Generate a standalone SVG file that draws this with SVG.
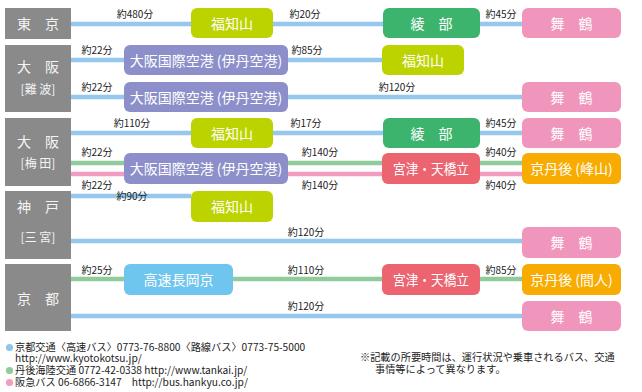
<svg xmlns="http://www.w3.org/2000/svg" width="642" height="392" viewBox="0 0 642 392">
<style>
text{font-family:"Noto Sans CJK JP","Noto Sans",sans-serif}
.org rect{fill:#8a8a8a}
.org text{fill:#f4f4f4;text-anchor:middle}
.big{font-size:14px}
.sub{font-size:12px}
.n text{fill:#fff;font-size:14px;text-anchor:middle}
.lime{fill:#bdd300}.grn{fill:#3db46d}.pnk{fill:#f096bd}.pur{fill:#8c8fc9}.red{fill:#ec6470}.org2{fill:#f8ab00}.lb{fill:#6ec5ee}
.c line{stroke-width:4.5}
.b{stroke:#95c8ec}.g{stroke:#8fcb9b}.p{stroke:#f39cc1}
.lbl text{font-size:10px;fill:#222;text-anchor:middle}
.ft{font-size:10.2px;fill:#222}
</style>
<g id="connectors" class="c">
<line class="b" x1="71" y1="24" x2="191" y2="24"/>
<line class="b" x1="273" y1="24" x2="383" y2="24"/>
<line class="b" x1="480" y1="24" x2="522" y2="24"/>
<line class="b" x1="71" y1="60" x2="124" y2="60"/>
<line class="b" x1="288" y1="60" x2="382" y2="60"/>
<line class="b" x1="71" y1="97" x2="124" y2="97"/>
<line class="b" x1="288" y1="97" x2="522" y2="97"/>
<line class="b" x1="71" y1="133" x2="191" y2="133"/>
<line class="b" x1="273" y1="133" x2="383" y2="133"/>
<line class="b" x1="480" y1="133" x2="522" y2="133"/>
<line class="g" x1="71" y1="163" x2="124" y2="163"/>
<line class="g" x1="288" y1="163" x2="382" y2="163"/>
<line class="g" x1="480" y1="163" x2="522" y2="163"/>
<line class="p" x1="71" y1="174" x2="124" y2="174"/>
<line class="p" x1="288" y1="174" x2="382" y2="174"/>
<line class="p" x1="480" y1="174" x2="522" y2="174"/>
<line class="b" x1="71" y1="196" x2="191" y2="196"/>
<line class="b" x1="71" y1="241" x2="522" y2="241"/>
<line class="g" x1="71" y1="279" x2="124" y2="279"/>
<line class="g" x1="233" y1="279" x2="382" y2="279"/>
<line class="g" x1="480" y1="279" x2="522" y2="279"/>
<line class="b" x1="71" y1="316" x2="522" y2="316"/>
</g>
<g id="labels" class="lbl">
<text x="135" y="18">約480分</text>
<text x="305" y="18">約20分</text>
<text x="501" y="18">約45分</text>
<text x="97" y="54">約22分</text>
<text x="307" y="54">約85分</text>
<text x="97" y="91">約22分</text>
<text x="397" y="91">約120分</text>
<text x="132" y="127">約110分</text>
<text x="306" y="127">約17分</text>
<text x="501" y="127">約45分</text>
<text x="97" y="156">約22分</text>
<text x="320" y="156">約140分</text>
<text x="501" y="156">約40分</text>
<text x="97" y="189">約22分</text>
<text x="320" y="189">約140分</text>
<text x="501" y="189">約40分</text>
<text x="132" y="200">約90分</text>
<text x="306" y="236">約120分</text>
<text x="97" y="274">約25分</text>
<text x="306" y="274">約110分</text>
<text x="501" y="274">約85分</text>
<text x="306" y="310">約120分</text>
</g>
<g id="tokyo" class="org"><rect x="5" y="8" width="66" height="31"/><text class="big" x="38" y="29">東　京</text></g>
<g id="osaka-namba" class="org"><rect x="5" y="45" width="66" height="67"/><text class="big" x="38" y="72">大　阪</text><text class="sub" x="38" y="94">[難 波]</text></g>
<g id="osaka-umeda" class="org"><rect x="5" y="118" width="66" height="68"/><text class="big" x="38" y="147">大　阪</text><text class="sub" x="38" y="168">[梅 田]</text></g>
<g id="kobe" class="org"><rect x="5" y="191" width="66" height="68"/><text class="big" x="38" y="212">神　戸</text><text class="sub" x="38" y="242">[三 宮]</text></g>
<g id="kyoto" class="org"><rect x="5" y="264" width="66" height="67"/><text class="big" x="38" y="304">京　都</text></g>

<g id="r1-fukuchiyama" class="n"><rect class="lime" x="191" y="8" width="82" height="30" rx="6"/><text x="232" y="28.5">福知山</text></g>
<g id="r1-ayabe" class="n"><rect class="grn" x="383" y="8" width="97" height="30" rx="6"/><text x="431.5" y="28.5">綾　部</text></g>
<g id="r1-maizuru" class="n"><rect class="pnk" x="522" y="8" width="99" height="30" rx="6"/><text x="571.5" y="28.5">舞　鶴</text></g>

<g id="r2-itami" class="n"><rect class="pur" x="124" y="45" width="164" height="30" rx="6"/><text x="206" y="65.5">大阪国際空港 (伊丹空港)</text></g>
<g id="r2-fukuchiyama" class="n"><rect class="lime" x="382" y="45" width="82" height="30" rx="6"/><text x="423" y="65.5">福知山</text></g>

<g id="r3-itami" class="n"><rect class="pur" x="124" y="82" width="164" height="30" rx="6"/><text x="206" y="102.5">大阪国際空港 (伊丹空港)</text></g>
<g id="r3-maizuru" class="n"><rect class="pnk" x="522" y="82" width="99" height="30" rx="6"/><text x="571.5" y="102.5">舞　鶴</text></g>

<g id="r4-fukuchiyama" class="n"><rect class="lime" x="191" y="118" width="82" height="30" rx="6"/><text x="232" y="138.5">福知山</text></g>
<g id="r4-ayabe" class="n"><rect class="grn" x="383" y="118" width="97" height="30" rx="6"/><text x="431.5" y="138.5">綾　部</text></g>
<g id="r4-maizuru" class="n"><rect class="pnk" x="522" y="118" width="99" height="30" rx="6"/><text x="571.5" y="138.5">舞　鶴</text></g>

<g id="r5-itami" class="n"><rect class="pur" x="124" y="153" width="164" height="31" rx="6"/><text x="206" y="173.5">大阪国際空港 (伊丹空港)</text></g>
<g id="r5-miyazu" class="n"><rect class="red" x="382" y="153" width="98" height="31" rx="6"/><text x="431" y="173.5" textLength="76" lengthAdjust="spacingAndGlyphs">宮津・天橋立</text></g>
<g id="r5-mineyama" class="n"><rect class="org2" x="522" y="153" width="99" height="31" rx="6"/><text x="571.5" y="173.5">京丹後 (峰山)</text></g>

<g id="r6-fukuchiyama" class="n"><rect class="lime" x="191" y="191" width="82" height="31" rx="6"/><text x="232" y="211.5">福知山</text></g>
<g id="r7-maizuru" class="n"><rect class="pnk" x="522" y="227" width="99" height="31" rx="6"/><text x="571.5" y="247.5">舞　鶴</text></g>

<g id="r8-nagaokakyo" class="n"><rect class="lb" x="124" y="264" width="109" height="31" rx="6"/><text x="178.5" y="284.5">高速長岡京</text></g>
<g id="r8-miyazu" class="n"><rect class="red" x="382" y="264" width="98" height="31" rx="6"/><text x="431" y="284.5" textLength="76" lengthAdjust="spacingAndGlyphs">宮津・天橋立</text></g>
<g id="r8-taiza" class="n"><rect class="org2" x="522" y="264" width="99" height="31" rx="6"/><text x="571.5" y="284.5">京丹後 (間人)</text></g>
<g id="r9-maizuru" class="n"><rect class="pnk" x="522" y="301" width="99" height="30" rx="6"/><text x="571.5" y="321.5">舞　鶴</text></g>

<g id="footer">
<circle cx="9.5" cy="347.5" r="3.6" fill="#8cc6ec"/>
<text class="ft" x="15" y="351">京都交通〈高速バス〉0773-76-8800〈路線バス〉0773-75-5000</text>
<text class="ft" x="15" y="362">http://www.kyotokotsu.jp/</text>
<circle cx="9.5" cy="370.5" r="3.6" fill="#8fcb9b"/>
<text class="ft" x="15" y="374">丹後海陸交通 0772-42-0338  http://www.tankai.jp/</text>
<circle cx="9.5" cy="382.5" r="3.6" fill="#f39cc1"/>
<text class="ft" x="15" y="386">阪急バス 06-6866-3147　http://bus.hankyu.co.jp/</text>
<text class="ft" x="360" y="361">※記載の所要時間は、運行状況や乗車されるバス、交通</text>
<text class="ft" x="375" y="373">事情等によって異なります。</text>
</g>
</svg>
